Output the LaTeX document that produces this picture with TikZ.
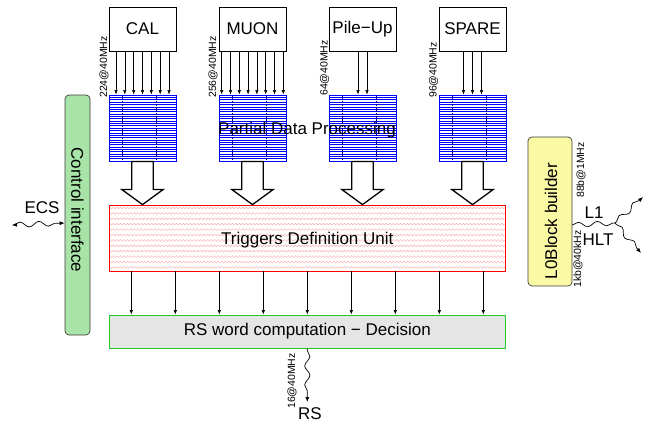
\documentclass[tikz,border=0pt]{standalone}
\usepackage{fontspec}
\setmainfont{Liberation Sans}
\usetikzlibrary{arrows.meta,decorations.pathmorphing,calc}
\definecolor{ctrlgreen}{RGB}{168,228,168}
\definecolor{lbyellow}{RGB}{250,250,165}
\definecolor{rsgray}{RGB}{229,229,229}
\definecolor{rsgreen}{RGB}{34,204,34}
\definecolor{zigred}{RGB}{248,170,170}
\definecolor{edgegray}{RGB}{60,60,60}
\begin{document}
\begin{tikzpicture}[x=1pt,y=-1pt,
  big/.style={font=\fontsize{17}{20}\selectfont},
  small/.style={font=\fontsize{10.5}{12}\selectfont},
  srcbox/.style={draw=black, line width=0.8pt, fill=white, minimum width=67pt, minimum height=44pt, inner sep=0pt, big},
  procbox/.style={draw=blue, line width=0.8pt, minimum width=67pt, minimum height=66pt, inner sep=0pt,
    path picture={
      \foreach \i in {1,...,27}
        \draw[blue, line width=0.45pt] ([yshift=-\i*2.36pt]path picture bounding box.north west) -- ([yshift=-\i*2.36pt]path picture bounding box.north east);
      \foreach \f in {0.19,0.71}
        \draw[blue!60!black, line width=0.25pt, dash pattern=on 2pt off 1pt]
          ($(path picture bounding box.north west)!\f!(path picture bounding box.north east)$) --
          ($(path picture bounding box.south west)!\f!(path picture bounding box.south east)$);
    }},
  tdubox/.style={draw=red, line width=0.8pt, fill=white, minimum width=396.7pt, minimum height=66pt, inner sep=0pt, big,
    path picture={
      \foreach \i in {0,...,11}
        \draw[zigred, line width=0.4pt, decorate, decoration={zigzag, segment length=3.5pt, amplitude=0.9pt}]
          ([yshift=-3pt-\i*5.4pt]path picture bounding box.north west) -- ([yshift=-3pt-\i*5.4pt]path picture bounding box.north east);
    }},
  rsbox/.style={draw=rsgreen, line width=0.8pt, fill=rsgray, minimum width=396.7pt, minimum height=33pt, inner sep=0pt, big},
  ctrlbox/.style={draw=edgegray, line width=0.7pt, fill=ctrlgreen, rounded corners=4pt, minimum width=25pt, minimum height=240pt, inner sep=0pt},
  lbbox/.style={draw=edgegray, line width=0.7pt, fill=lbyellow, rounded corners=4pt, minimum width=44pt, minimum height=149pt, inner sep=0pt},
  arr/.style={-{Latex[length=4.5pt,width=3.4pt]}, line width=0.6pt},
  bigarrow/.style={draw=black, line width=1.3pt, fill=white, line join=miter},
  snk/.style={decorate, decoration={snake, amplitude=2.6pt, segment length=19pt, pre length=2pt, post length=5pt}, line width=0.7pt},
  snkhead/.style={-{Latex[length=5pt,width=4pt]}},
]
\useasboundingbox (0,0) rectangle (646,423);

% source boxes
\node[srcbox] (cal) at (142.5,29) {CAL};
\node[srcbox] (muon) at (252.5,29) {MUON};
\node[srcbox] (pu) at (362.5,29) {Pile−Up};
\node[srcbox] (sp) at (472.5,29) {SPARE};

% processing boxes
\node[procbox] (calp) at (142.5,128) {};
\node[procbox] (muonp) at (252.5,128) {};
\node[procbox] (pup) at (362.5,128) {};
\node[procbox] (spp) at (472.5,128) {};

% link arrows
\foreach \o in {-26.5,-17.67,-8.83,0,8.83,17.67,26.5}
  \draw[arr] ([xshift=\o pt]cal.south) -- ([xshift=\o pt]calp.north);
\foreach \o in {-30.8,-22,-13.2,-4.4,4.4,13.2,22,30.8}
  \draw[arr] ([xshift=\o pt]muon.south) -- ([xshift=\o pt]muonp.north);
\foreach \o in {-4.5,4.5}
  \draw[arr] ([xshift=\o pt]pu.south) -- ([xshift=\o pt]pup.north);
\foreach \o in {-9,0,9}
  \draw[arr] ([xshift=\o pt]sp.south) -- ([xshift=\o pt]spp.north);

% link labels
\node[small, rotate=90] (lcal) at (104,67) {224@40MHz};
\node[small, rotate=90] (lmuon) at (213,67) {256@40MHz};
\node[small, rotate=90] (lpu) at (324.5,68) {64@40MHz};
\node[small, rotate=90] (lsp) at (433.5,70) {96@40MHz};

\node[big] (pdp) at (307,130) {Partial Data Processing};

% TDU and RS
\node[tdubox] (tdu) at (307.3,238) {};
\node[big] (tdutext) at (307.3,240) {Triggers Definition Unit};
\node[rsbox] (rs) at (307.3,331.5) {RS word computation − Decision};

% big hollow arrows
\foreach \n in {calp,muonp,pup,spp}
  \draw[bigarrow] ([xshift=-10.8pt]\n.south) -- ([xshift=-10.8pt,yshift=-28pt]\n.south)
    -- ([xshift=-20.8pt,yshift=-28pt]\n.south) -- (\n.south |- tdu.north)
    -- ([xshift=20.8pt,yshift=-28pt]\n.south) -- ([xshift=10.8pt,yshift=-28pt]\n.south)
    -- ([xshift=10.8pt]\n.south) -- cycle;

% TDU -> RS arrows
\foreach \o in {-176,-132,-88,-44,0,44,88,132,176}
  \draw[arr] ([xshift=\o pt]tdu.south) -- ([xshift=\o pt]rs.north);

% control interface
\node[ctrlbox] (ctrl) at (77.5,215) {};
\node[big, rotate=-90] (ctrltext) at (77.5,210) {Control interface};
\coordinate (ecsend) at (12,225);
\draw[snk, {Latex[length=5pt,width=4pt]}-{Latex[length=5pt,width=4pt]}] (ecsend) -- ([yshift=-8pt]ctrl.west);
\node[big] (ecs) at (42,208) {ECS};

% L0 block builder
\node[lbbox] (lb) at (550,211.5) {};
\node[big, rotate=90] (lbtext) at (551,221) {L0Block builder};
\node[small, rotate=90] (l88) at (581,170) {88b@1MHz};
\node[small, rotate=90] (l1kb) at (578,259) {1kb@40kHz};
\coordinate (br) at (615,223);
\coordinate (l1end) at (643,197);
\coordinate (hltend) at (641,253);
\draw[decorate, decoration={snake, amplitude=2.4pt, segment length=19pt}, line width=0.7pt] ([yshift=-13.5pt]lb.east) -- (br);
\draw[snk, snkhead] (br) -- (l1end);
\draw[snk, snkhead] (br) -- (hltend);
\node[big] (l1) at (594,213) {L1};
\node[big] (hlt) at (598,240) {HLT};

% RS output
\coordinate (rsend) at (307.3,402);
\draw[snk, snkhead] (rs.south) -- (rsend);
\node[big] (rstext) at (310,414) {RS};
\node[small, rotate=90] (l16) at (292,381) {16@40MHz};
\end{tikzpicture}
\end{document}
